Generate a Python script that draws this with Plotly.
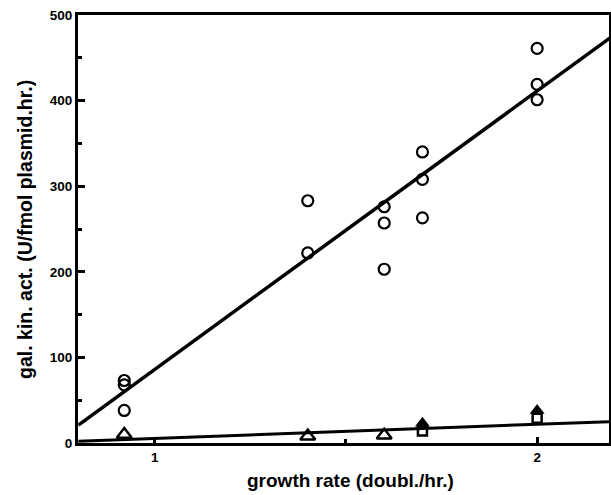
import plotly.graph_objects as go

# circles (upper series)
circ_x = [0.92, 0.92, 0.92, 1.40, 1.40, 1.60, 1.60, 1.60, 1.70, 1.70, 1.70, 2.00, 2.00, 2.00]
circ_y = [73, 68, 38, 283, 222, 276, 257, 203, 340, 308, 263, 461, 419, 401]

# open triangles
tri_x = [0.92, 1.40, 1.60]
tri_y = [10, 8, 9]

# filled triangles
ftri_x = [1.70, 2.00]
ftri_y = [23, 38]

# open squares
sq_x = [1.70, 2.00]
sq_y = [14, 29]

# fitted lines
fit_x = [0.80, 2.19]
fit_hi = [21, 473]
fit_lo = [2, 25]

font = "Liberation Sans, Arial, sans-serif"

fig = go.Figure()
fig.add_trace(go.Scatter(x=fit_x, y=fit_hi, mode='lines', line=dict(color='black', width=3.5)))
fig.add_trace(go.Scatter(x=fit_x, y=fit_lo, mode='lines', line=dict(color='black', width=3)))
fig.add_trace(go.Scatter(x=circ_x, y=circ_y, mode='markers',
                         marker=dict(symbol='circle-open', size=11, color='black', line=dict(width=2.2))))
fig.add_trace(go.Scatter(x=tri_x, y=tri_y, mode='markers',
                         marker=dict(symbol='triangle-up-open', size=13, color='black', line=dict(width=2.5))))
fig.add_trace(go.Scatter(x=sq_x, y=sq_y, mode='markers',
                         marker=dict(symbol='square-open', size=9, color='black', line=dict(width=2.5))))
fig.add_trace(go.Scatter(x=ftri_x, y=ftri_y, mode='markers',
                         marker=dict(symbol='triangle-up', size=13, color='black')))

fig.update_layout(
    width=611, height=495,
    margin=dict(l=78, r=2, t=15, b=52),
    plot_bgcolor='white', paper_bgcolor='white',
    showlegend=False,
    font=dict(family=font, color='black', size=13, weight='bold'),
)
fig.update_xaxes(
    range=[0.799, 2.188], showgrid=False, zeroline=False, automargin=False,
    showline=True, linecolor='black', linewidth=3, mirror=True,
    tickvals=[1, 2], ticktext=['1', '2'], ticks='inside', ticklen=6, tickwidth=2.5,
    tickcolor='black', tickfont=dict(size=13.5, weight='bold'),
    minor=dict(tickvals=[1.5], ticks='inside', ticklen=4, tickwidth=2.5, tickcolor='black'),
)
fig.update_yaxes(
    range=[0, 500], showgrid=False, zeroline=False, automargin=False,
    showline=True, linecolor='black', linewidth=3, mirror=True,
    tickvals=[0, 100, 200, 300, 400, 500], ticks='inside', ticklen=7, tickwidth=2.5,
    tickcolor='black', tickfont=dict(size=13.5, weight='bold'),
    minor=dict(tickvals=[50, 150, 250, 350, 450], ticks='inside', ticklen=4, tickwidth=2.5, tickcolor='black'),
)
fig.add_annotation(text='gal. kin. act. (U/fmol plasmid.hr.)', xref='paper', yref='paper',
                   x=-0.1, y=0.5, showarrow=False, textangle=-90,
                   xanchor='center', yanchor='middle',
                   font=dict(size=19.5, weight='bold'))
fig.add_annotation(text='growth rate (doubl./hr.)', xref='paper', yref='paper',
                   x=0.513, y=-0.088, showarrow=False, yanchor='middle',
                   font=dict(size=19, weight='bold'))

# drop the default 8px page margin so the figure sits at the window corner
fig.write_html("out.html", config={'displayModeBar': False},
               post_script="document.body.style.margin='0px';")
